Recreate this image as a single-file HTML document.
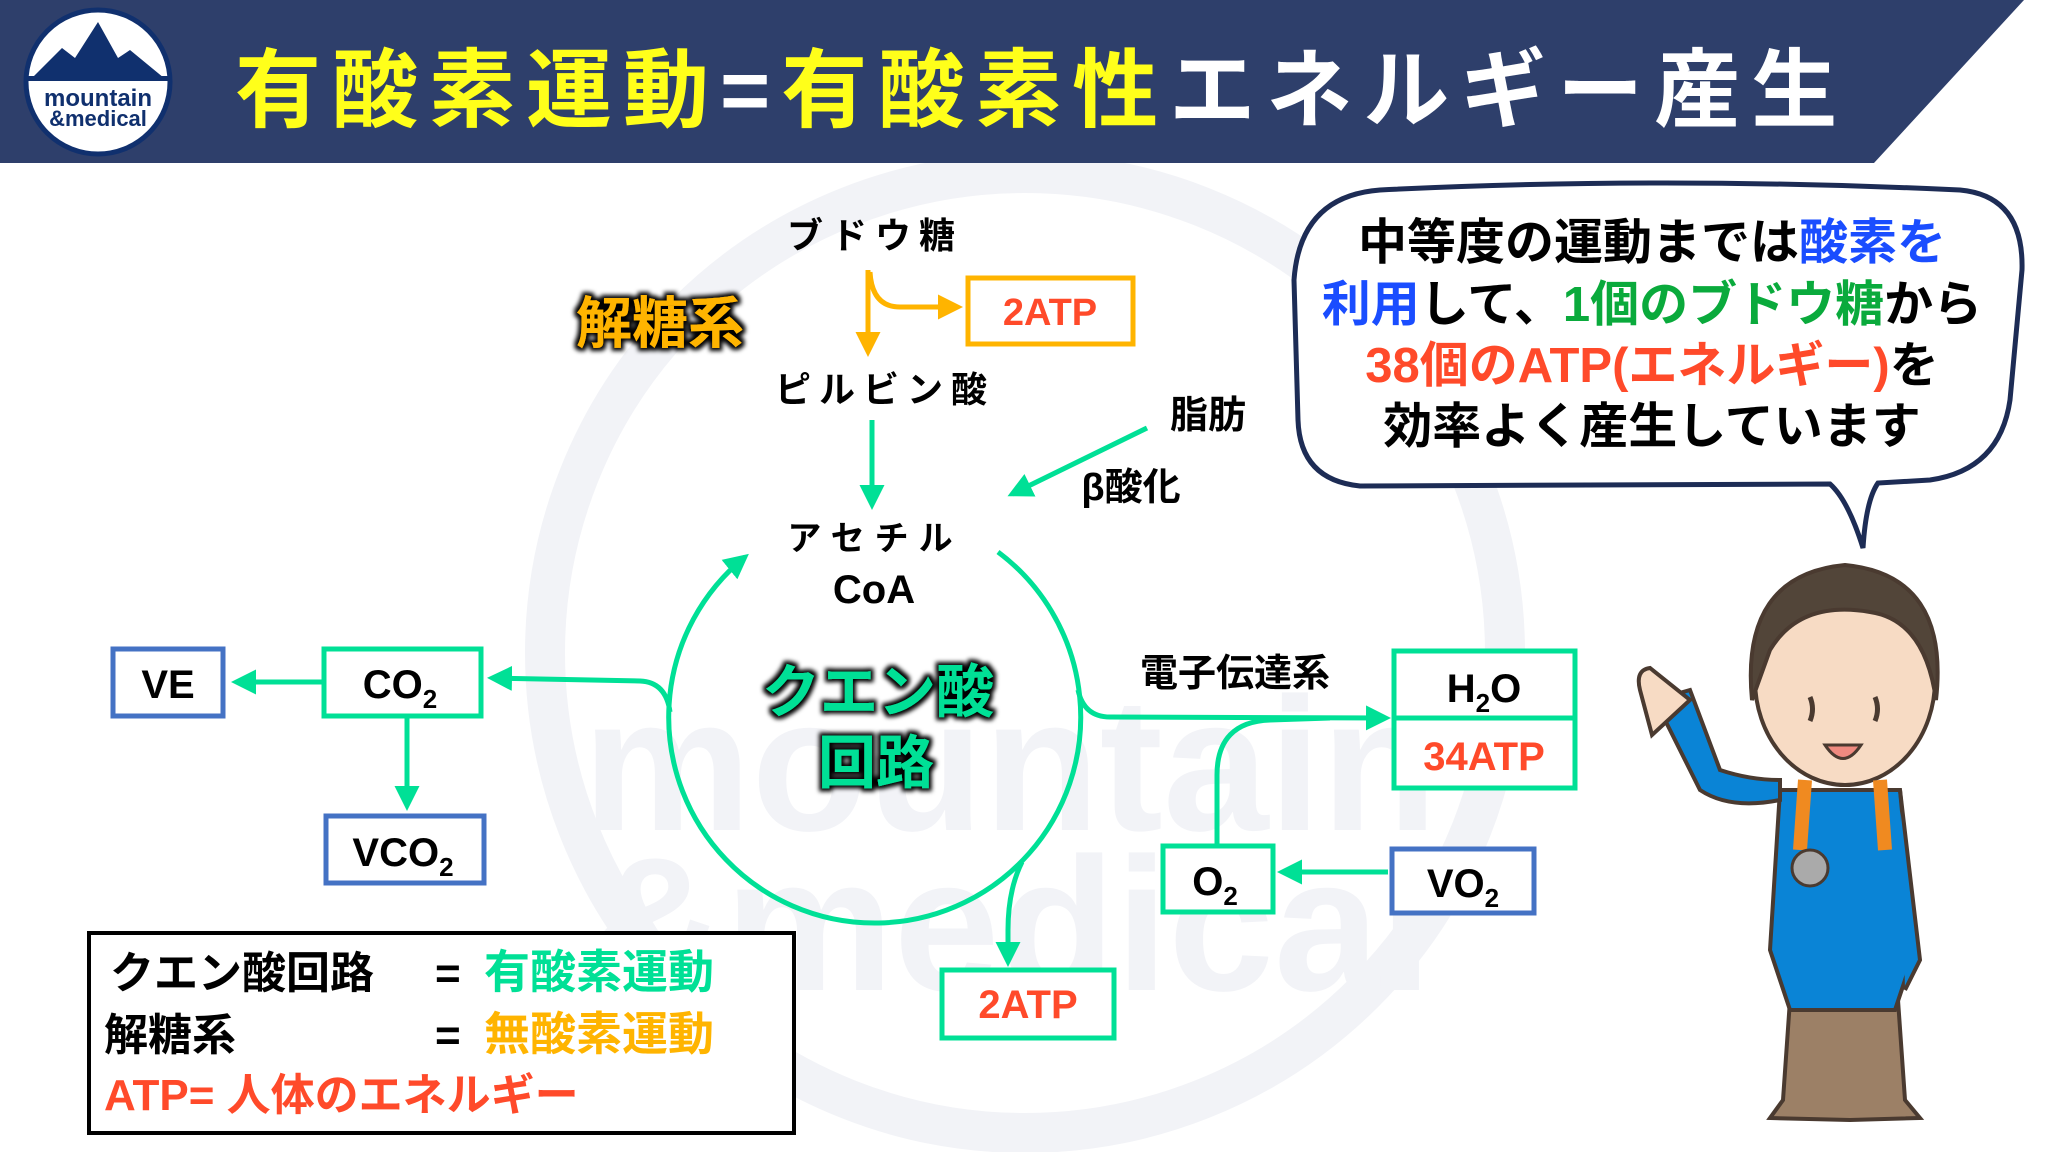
<!DOCTYPE html>
<html><head><meta charset="utf-8"><style>
html,body{margin:0;padding:0;background:#fff;}
svg{display:block;}
text{font-family:"Liberation Sans","Noto Sans CJK JP",sans-serif;font-weight:bold;}
</style></head><body>
<svg width="2048" height="1152" viewBox="0 0 2048 1152" xmlns="http://www.w3.org/2000/svg">
<defs>
<marker id="ag" viewBox="0 0 10 10" refX="8" refY="5" markerWidth="5" markerHeight="5" orient="auto"><path d="M0,0L10,5L0,10z" fill="#00e096"/></marker>
<marker id="ao" viewBox="0 0 10 10" refX="8" refY="5" markerWidth="5" markerHeight="5" orient="auto"><path d="M0,0L10,5L0,10z" fill="#ffb400"/></marker>
<filter id="glow" x="-20%" y="-20%" width="140%" height="140%"><feMorphology operator="dilate" radius="3" in="SourceAlpha" result="d"/><feGaussianBlur in="d" stdDeviation="2" result="b"/><feFlood flood-color="#000"/><feComposite in2="b" operator="in" result="s"/><feMerge><feMergeNode in="s"/><feMergeNode in="SourceGraphic"/></feMerge></filter>
</defs>
<!-- watermark -->
<circle cx="1025" cy="653" r="480" fill="none" stroke="#f2f3f7" stroke-width="40"/>
<text x="1010" y="830" font-size="190" fill="#f2f3f7" text-anchor="middle" font-family="Liberation Sans">mountain</text>
<text x="1010" y="990" font-size="190" fill="#f2f3f7" text-anchor="middle" font-family="Liberation Sans">&amp;medical</text>
<!-- header -->
<polygon points="0,0 2024,0 1874,163 0,163" fill="#2e3f6b"/>
<circle cx="98" cy="82" r="72" fill="#fff" stroke="#10306e" stroke-width="5"/>
<path d="M32,78 L62,48 L75,58 L98,22 L118,58 L130,50 L164,78 Z" fill="#10306e"/>
<rect x="28" y="76" width="140" height="5" fill="#10306e"/>
<text x="98" y="106" font-size="24" fill="#10306e" text-anchor="middle" font-family="Liberation Sans">mountain</text>
<text x="98" y="126" font-size="22" fill="#10306e" text-anchor="middle" font-family="Liberation Sans">&amp;medical</text>
<text x="235" y="120" font-size="86" letter-spacing="11"><tspan fill="#ffff1a">有酸素運動</tspan><tspan fill="#fff">=</tspan><tspan fill="#ffff1a">有酸素性</tspan><tspan fill="#fff">エネルギー産生</tspan></text>

<!-- glycolysis -->
<text x="875" y="248" font-size="36" text-anchor="middle" fill="#000" letter-spacing="8">ブドウ糖</text>
<line x1="868" y1="270" x2="868" y2="352" stroke="#ffb400" stroke-width="5" marker-end="url(#ao)"/>
<path d="M870,272 Q872,307 900,307 L958,307" fill="none" stroke="#ffb400" stroke-width="5" marker-end="url(#ao)"/>
<rect x="968" y="278" width="165" height="66" fill="#fff" stroke="#ffb400" stroke-width="5"/>
<text x="1050" y="325" font-size="38" text-anchor="middle" fill="#ff4a2a" font-weight="normal">2ATP</text>
<text x="660" y="343" font-size="56" text-anchor="middle" fill="#ffb400" filter="url(#glow)">解糖系</text>
<text x="885" y="402" font-size="36" text-anchor="middle" fill="#000" letter-spacing="8">ピルビン酸</text>
<line x1="872" y1="420" x2="872" y2="505" stroke="#00e096" stroke-width="5" marker-end="url(#ag)"/>
<text x="1208" y="428" font-size="38" text-anchor="middle" fill="#000">脂肪</text>
<text x="1131" y="500" font-size="38" text-anchor="middle" fill="#000">β酸化</text>
<line x1="1147" y1="428" x2="1012" y2="494" stroke="#00e096" stroke-width="5" marker-end="url(#ag)"/>
<text x="875" y="550" font-size="34" text-anchor="middle" fill="#000" letter-spacing="10">アセチル</text>
<text x="874" y="603" font-size="40" text-anchor="middle" fill="#000" font-weight="normal">CoA</text>

<!-- TCA cycle -->
<path d="M998,552 A206,206 0 1 1 745,557" fill="none" stroke="#00e096" stroke-width="5" marker-end="url(#ag)"/>
<text x="878" y="712" font-size="58" text-anchor="middle" fill="#00e096" filter="url(#glow)">クエン酸</text>
<text x="876" y="783" font-size="58" text-anchor="middle" fill="#00e096" filter="url(#glow)">回路</text>
<!-- left branch -->
<path d="M670,712 Q666,682 640,681 L492,678" fill="none" stroke="#00e096" stroke-width="5" marker-end="url(#ag)"/>
<rect x="324" y="649" width="157" height="67" fill="#fff" stroke="#00e096" stroke-width="5"/>
<text x="400" y="698" font-size="40" text-anchor="middle" fill="#000" font-weight="normal">CO<tspan font-size="26" dy="10">2</tspan></text>
<line x1="322" y1="682" x2="236" y2="682" stroke="#00e096" stroke-width="5" marker-end="url(#ag)"/>
<rect x="113" y="649" width="110" height="67" fill="#fff" stroke="#4472c4" stroke-width="5"/>
<text x="168" y="698" font-size="40" text-anchor="middle" fill="#000" font-weight="normal">VE</text>
<line x1="407" y1="718" x2="407" y2="806" stroke="#00e096" stroke-width="5" marker-end="url(#ag)"/>
<rect x="326" y="816" width="158" height="67" fill="#fff" stroke="#4472c4" stroke-width="5"/>
<text x="403" y="866" font-size="40" text-anchor="middle" fill="#000" font-weight="normal">VCO<tspan font-size="26" dy="10">2</tspan></text>
<!-- right branch -->
<path d="M1078,690 Q1084,717 1110,717 L1386,718" fill="none" stroke="#00e096" stroke-width="5" marker-end="url(#ag)"/>
<path d="M1217,845 L1217,775 Q1217,722 1270,720 L1330,718" fill="none" stroke="#00e096" stroke-width="5"/>
<text x="1235" y="686" font-size="38" text-anchor="middle" fill="#000">電子伝達系</text>
<rect x="1394" y="651" width="181" height="137" fill="#fff" stroke="#00e096" stroke-width="5"/>
<line x1="1394" y1="718" x2="1575" y2="718" stroke="#00e096" stroke-width="5"/>
<text x="1484" y="702" font-size="40" text-anchor="middle" fill="#000" font-weight="normal">H<tspan font-size="26" dy="10">2</tspan><tspan dy="-10">O</tspan></text>
<text x="1484" y="770" font-size="40" text-anchor="middle" fill="#ff4a2a" font-weight="normal">34ATP</text>
<rect x="1163" y="846" width="110" height="66" fill="#fff" stroke="#00e096" stroke-width="5"/>
<text x="1215" y="895" font-size="40" text-anchor="middle" fill="#000" font-weight="normal">O<tspan font-size="26" dy="10">2</tspan></text>
<line x1="1388" y1="872" x2="1282" y2="872" stroke="#00e096" stroke-width="5" marker-end="url(#ag)"/>
<rect x="1392" y="849" width="142" height="64" fill="#fff" stroke="#4472c4" stroke-width="5"/>
<text x="1463" y="897" font-size="40" text-anchor="middle" fill="#000" font-weight="normal">VO<tspan font-size="26" dy="10">2</tspan></text>
<!-- bottom 2ATP -->
<path d="M1022,862 Q1008,890 1008,930 L1008,962" fill="none" stroke="#00e096" stroke-width="5" marker-end="url(#ag)"/>
<rect x="942" y="970" width="172" height="68" fill="#fff" stroke="#00e096" stroke-width="5"/>
<text x="1028" y="1018" font-size="40" text-anchor="middle" fill="#ff4a2a" font-weight="normal">2ATP</text>

<!-- legend -->
<rect x="89" y="933" width="705" height="200" fill="#fff" stroke="#000" stroke-width="4"/>
<text x="110" y="988" font-size="44" fill="#000">クエン酸回路</text>
<text x="435" y="988" font-size="44" fill="#000">=</text>
<text x="484" y="988" font-size="46" fill="#00e096">有酸素運動</text>
<text x="104" y="1050" font-size="44" fill="#000">解糖系</text>
<text x="435" y="1050" font-size="44" fill="#000">=</text>
<text x="484" y="1050" font-size="46" fill="#ffb400">無酸素運動</text>
<text x="104" y="1110" font-size="44" fill="#ff4a2a">ATP= 人体のエネルギー</text>

<!-- speech bubble -->
<path d="M1380,190 Q1660,176 1960,190 Q2024,196 2022,270 L2010,400 Q2000,470 1930,480 L1878,483 Q1866,500 1863,548 Q1848,500 1830,484 L1360,486 Q1300,480 1298,420 L1294,280 Q1300,196 1380,190 Z" fill="#fff" stroke="#1d2c55" stroke-width="5"/>
<g font-size="49" text-anchor="middle">
<text x="1652" y="259"><tspan fill="#000">中等度の運動までは</tspan><tspan fill="#1a4dff">酸素を</tspan></text>
<text x="1652" y="321"><tspan fill="#1a4dff">利用</tspan><tspan fill="#000">して、</tspan><tspan fill="#0aaa3c">1個のブドウ糖</tspan><tspan fill="#000">から</tspan></text>
<text x="1652" y="382"><tspan fill="#ff4a2a">38個のATP(エネルギー)</tspan><tspan fill="#000">を</tspan></text>
<text x="1652" y="443" fill="#000">効率よく産生しています</text>
</g>

<!-- character -->
<g stroke="#4a3a30" stroke-width="4">
<path d="M1790,1000 L1783,1100 L1770,1118 L1850,1120 L1920,1118 L1905,1100 L1898,1000 Z" fill="#9c8066"/>
<path d="M1780,790 L1900,790 L1915,950 L1895,1010 L1790,1010 L1770,950 Z" fill="#0a84d6"/>
<path d="M1780,800 Q1730,810 1700,790 L1665,720 L1655,700 L1690,690 L1720,770 Q1750,780 1780,780 Z" fill="#0a84d6"/>
<path d="M1652,735 L1640,690 Q1635,670 1650,668 L1690,700 Z" fill="#f7dbc4"/>
<path d="M1900,790 L1920,960 L1905,990" fill="#0a84d6"/>
<ellipse cx="1845" cy="680" rx="90" ry="105" fill="#f7dbc4"/>
<path d="M1752,700 Q1740,575 1845,565 Q1950,575 1936,700 Q1925,620 1870,612 Q1800,600 1770,650 Z" fill="#524539"/>
</g>
<path d="M1805,780 L1800,850" stroke="#f08a20" stroke-width="14"/>
<path d="M1880,780 L1885,850" stroke="#f08a20" stroke-width="14"/>
<circle cx="1810" cy="868" r="18" fill="#aaa" stroke="#4a3a30" stroke-width="3"/>
<path d="M1810,697 q5,12 0,24 M1875,697 q5,12 0,24" stroke="#4a3a30" stroke-width="5" fill="none"/>
<path d="M1825,745 Q1843,772 1861,745 Z" fill="#ef8a80" stroke="#4a3a30" stroke-width="3"/>
</svg>
</body></html>
